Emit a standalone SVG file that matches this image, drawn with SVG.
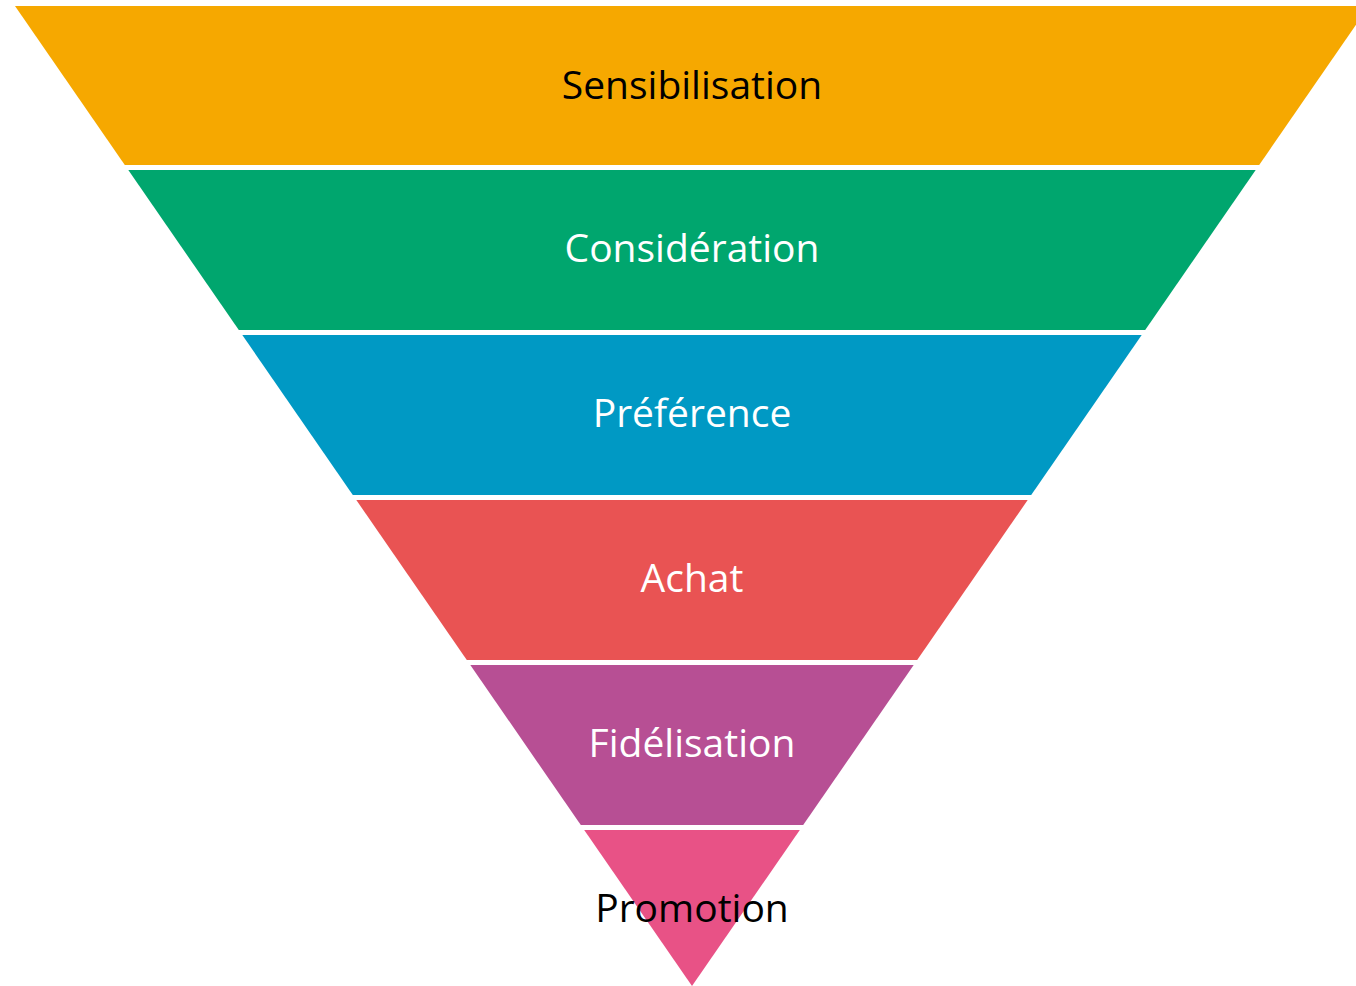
<svg xmlns="http://www.w3.org/2000/svg" width="1356" height="986" viewBox="0 0 1356 986">
  <style>
    .label { font-family: "Open Sans", "Noto Sans", "Liberation Sans", sans-serif; font-size: 39px; text-anchor: middle; }
    .light { fill: #ffffff; }
    .dark { fill: #000000; }
  </style>
  <rect width="1356" height="986" fill="#ffffff"/>
  <!-- funnel stages: apex at (692, 986), six bands separated by 5px gaps -->
  <g id="stage-sensibilisation">
    <polygon points="15,6 1369,6 1259.2,165 124.8,165" fill="#F6A800"/>
    <text class="label dark" x="692" y="99">Sensibilisation</text>
  </g>
  <g id="stage-consideration">
    <polygon points="128.3,170 1255.7,170 1145.2,330 238.8,330" fill="#00A66E"/>
    <text class="label light" x="692" y="262">Considération</text>
  </g>
  <g id="stage-preference">
    <polygon points="242.3,335 1141.7,335 1031.2,495 352.8,495" fill="#0099C4"/>
    <text class="label light" x="692" y="427">Préférence</text>
  </g>
  <g id="stage-achat">
    <polygon points="356.3,500 1027.7,500 917.2,660 466.8,660" fill="#E95353"/>
    <text class="label light" x="692" y="592">Achat</text>
  </g>
  <g id="stage-fidelisation">
    <polygon points="470.3,665 913.7,665 803.2,825 580.8,825" fill="#B74F94"/>
    <text class="label light" x="692" y="757">Fidélisation</text>
  </g>
  <g id="stage-promotion">
    <polygon points="584.2,830 799.8,830 692,986" fill="#E85286"/>
    <text class="label dark" x="692" y="922">Promotion</text>
  </g>
  <g id="connectors"/>
</svg>
